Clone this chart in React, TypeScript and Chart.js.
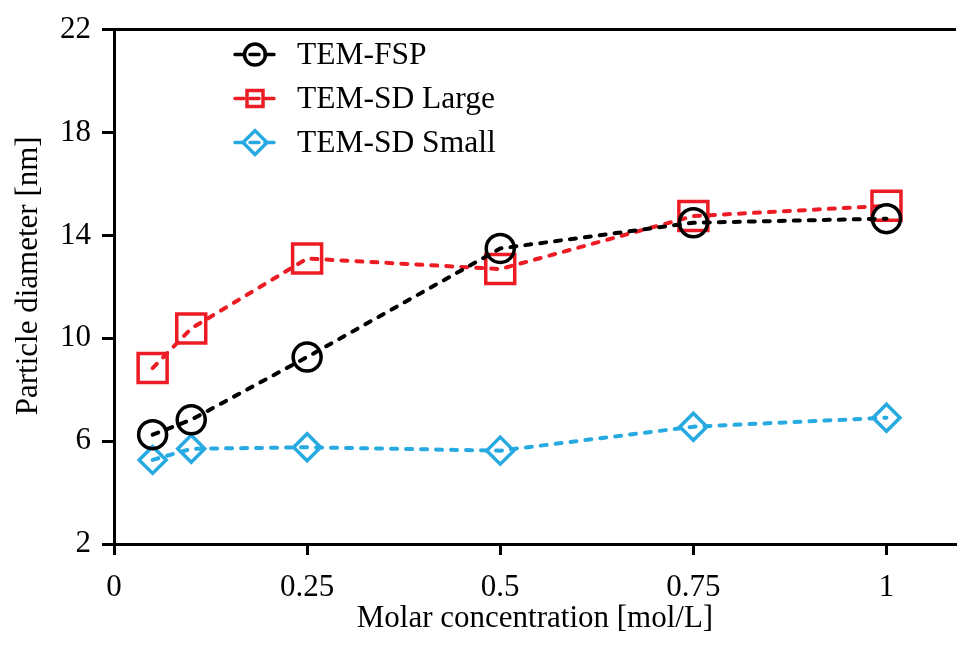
import { useEffect, useRef } from 'react';
import { Chart, registerables } from 'chart.js';

Chart.register(...registerables);

const concentrations = [0.05, 0.1, 0.25, 0.5, 0.75, 1];
const temFsp = [6.25, 6.83, 9.27, 13.49, 14.49, 14.65];
const temSdLarge = [8.84, 10.38, 13.1, 12.69, 14.75, 15.15];
const temSdSmall = [5.27, 5.7, 5.76, 5.63, 6.56, 6.91];
const xTicks = [0, 0.25, 0.5, 0.75, 1];
const yTicks = [2, 6, 10, 14, 18, 22];
const seriesNames = ['TEM-FSP', 'TEM-SD Large', 'TEM-SD Small'];
const xTitle = 'Molar concentration [mol/L]';
const yTitle = 'Particle diameter [nm]';
const seriesColors = ['#000000', '#ED1C24', '#27AAE1'];
const seriesStyles = ['circle', 'rect', 'rectRot'];
const seriesRadius = [14, 20.5, 13.5];

const FONT = "'Liberation Serif', 'Times New Roman', serif";

const frameAndLegend = {
  id: 'frameAndLegend',
  afterDraw(chart: any) {
    const { ctx, chartArea } = chart;
    ctx.save();
    // top frame line
    ctx.strokeStyle = '#000';
    ctx.lineWidth = 3;
    ctx.setLineDash([]);
    ctx.beginPath();
    ctx.moveTo(chartArea.left, chartArea.top);
    ctx.lineTo(chartArea.right, chartArea.top);
    ctx.stroke();

    // y axis title
    ctx.save();
    ctx.translate(29, (chartArea.top + chartArea.bottom) / 2 - 11);
    ctx.rotate(-Math.PI / 2);
    ctx.fillStyle = '#000';
    ctx.font = `31px ${FONT}`;
    ctx.textAlign = 'center';
    ctx.textBaseline = 'middle';
    ctx.fillText(yTitle, 0, 0);
    ctx.restore();

    // legend
    chart.data.datasets.forEach((ds: any, i: number) => {
      const x0 = chartArea.left + 119;
      const y = chartArea.top + 25 + i * 44;
      const color = ds.borderColor;
      ctx.strokeStyle = color;
      ctx.lineWidth = 3.5;
      ctx.lineCap = 'round';
      ctx.setLineDash([9, 6]);
      ctx.beginPath();
      ctx.moveTo(x0 + 2, y);
      ctx.lineTo(x0 + 42, y);
      ctx.stroke();
      ctx.setLineDash([]);
      ctx.lineCap = 'butt';
      const cx = x0 + 22;
      ctx.beginPath();
      if (ds.pointStyle === 'circle') {
        ctx.arc(cx, y, 10.5, 0, Math.PI * 2);
      } else if (ds.pointStyle === 'rect') {
        ctx.rect(cx - 8, y - 8, 16, 16);
      } else {
        ctx.moveTo(cx - 12, y);
        ctx.lineTo(cx, y - 12);
        ctx.lineTo(cx + 12, y);
        ctx.lineTo(cx, y + 12);
        ctx.closePath();
      }
      ctx.stroke();
      ctx.fillStyle = '#000';
      ctx.font = `31.5px ${FONT}`;
      ctx.textBaseline = 'middle';
      ctx.textAlign = 'left';
      ctx.fillText(ds.label, x0 + 64, y + 1);
    });
    ctx.restore();
  },
};

export default function App() {
  const ref = useRef<HTMLCanvasElement | null>(null);
  useEffect(() => {
    if (!ref.current) return;
    const datasets = [temFsp, temSdLarge, temSdSmall].map((vals, i) => ({
      label: seriesNames[i],
      data: concentrations.map((x, j) => ({ x, y: vals[j] })),
      borderColor: seriesColors[i],
      backgroundColor: 'rgba(0,0,0,0)',
      pointBackgroundColor: 'rgba(0,0,0,0)',
      pointBorderColor: seriesColors[i],
      pointBorderWidth: 3.5,
      pointStyle: seriesStyles[i],
      pointRadius: seriesRadius[i],
      borderWidth: 4,
      borderDash: [6, 9],
      borderCapStyle: 'round' as const,
      fill: false,
      tension: 0,
      clip: false as any,
    }));
    const chart = new Chart(ref.current, {
      type: 'line',
      data: { datasets },
      options: {
        animation: false,
        responsive: false,
        maintainAspectRatio: false,
        devicePixelRatio: 1,
        layout: { autoPadding: false, padding: { left: 0, top: 25, right: 4, bottom: 0 } },
        plugins: { legend: { display: false }, tooltip: { enabled: false } },
        scales: {
          x: {
            type: 'linear',
            min: 0,
            max: 1.09,
            afterBuildTicks: (scale: any) => {
              scale.ticks = xTicks.map((v) => ({ value: v }));
            },
            afterFit: (scale: any) => {
              scale.height = 101;
            },
            ticks: {
              color: '#000',
              font: { family: FONT, size: 31 },
              padding: 14,
              maxRotation: 0,
              autoSkip: false,
              callback: (v: any) => String(v),
            },
            grid: {
              display: true,
              drawOnChartArea: false,
              drawTicks: true,
              tickLength: 11,
              tickWidth: 3,
              color: '#000',
            },
            border: { display: true, width: 3, color: '#000' },
            title: {
              display: true,
              text: xTitle,
              color: '#000',
              font: { family: FONT, size: 31 },
              padding: { top: 0, bottom: 8 },
            },
          },
          y: {
            type: 'linear',
            min: 2,
            max: 22,
            afterBuildTicks: (scale: any) => {
              scale.ticks = yTicks.map((v) => ({ value: v }));
            },
            afterFit: (scale: any) => {
              scale.width = 114;
            },
            ticks: {
              color: '#000',
              font: { family: FONT, size: 31 },
              padding: 11,
              callback: (v: any) => String(v),
            },
            grid: {
              display: true,
              drawOnChartArea: false,
              drawTicks: true,
              tickLength: 12,
              tickWidth: 3,
              color: '#000',
            },
            border: { display: true, width: 3, color: '#000' },
            title: { display: false },
          },
        },
      },
      plugins: [frameAndLegend],
    });
    return () => chart.destroy();
  }, []);
  return (
    <div style={{ position: 'absolute', left: 0, top: 0, width: 960, height: 645, background: '#fff' }}>
      <canvas ref={ref} width={960} height={645} style={{ display: 'block' }} />
    </div>
  );
}
